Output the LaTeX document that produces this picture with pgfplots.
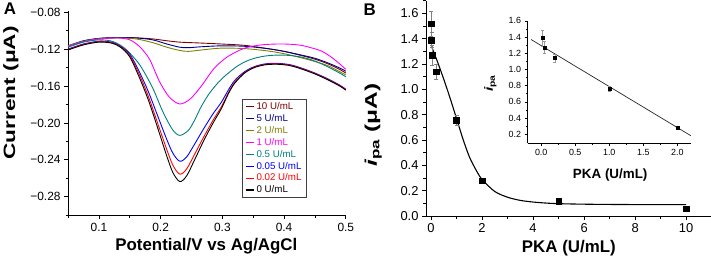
\documentclass[border=0pt]{standalone}
\usepackage{graphicx}
\usepackage{fontspec}
\setmainfont{Liberation Sans}
\usepackage{pgfplots}
\pgfplotsset{compat=1.18}
\definecolor{wine}{RGB}{128,0,0}
\definecolor{navyc}{RGB}{0,0,140}
\definecolor{olivec}{RGB}{128,128,0}
\definecolor{magc}{RGB}{255,0,255}
\definecolor{tealc}{RGB}{0,128,128}
\definecolor{bluec}{RGB}{0,0,255}
\definecolor{redc}{RGB}{255,0,0}

\pgfplotstableread{
x y e
0 1.52 0.10
0.02 1.39 0.06
0.05 1.27 0.08
0.2 1.14 0.06
1 0.76 0.04
2 0.28 0.02
5 0.12 0.01
10 0.06 0.01
}\mainpts

\pgfplotstableread{
x y e
0.02 1.39 0.10
0.05 1.27 0.075
0.2 1.14 0.05
1 0.76 0.03
2 0.28 0.01
}\insetpts

\pgfplotsset{
  myaxis/.style={
    scale only axis,
    axis x line*=bottom, axis y line*=left,
    axis line style={-, line width=0.8bp},
    tick align=outside,
    major tick length=4bp, minor tick length=2.5bp,
    every tick/.style={line width=0.8bp, black},
    /pgf/number format/assume math mode=true,
    clip=false,
  }
}

\begin{document}
\begin{tikzpicture}
\path (0bp,0bp) rectangle (711bp,262bp);

\node[font=\bfseries\fontsize{17}{20}\selectfont] at (7.9bp,253.1bp) {A};
\node[font=\bfseries\fontsize{17}{20}\selectfont] at (369bp,252.8bp) {B};

% ---------------- Panel A
\begin{axis}[myaxis,
  at={(66.3bp,46.3bp)}, anchor=south west,
  width=278.7bp, height=204.7bp,
  xmin=0.05, xmax=0.5, ymin=-0.30, ymax=-0.079,
  xtick={0.1,0.2,0.3,0.4,0.5}, xticklabels={0.1,0.2,0.3,0.4,0.5},
  minor xtick={0.05,0.15,0.25,0.35,0.45},
  ytick={-0.28,-0.24,-0.20,-0.16,-0.12,-0.08},
  yticklabels={−0.28,−0.24,−0.20,−0.16,−0.12,−0.08},
  minor ytick={-0.30,-0.26,-0.22,-0.18,-0.14,-0.10},
  tick label style={font=\fontsize{12}{14}\selectfont},
  xlabel={Potential/V vs Ag/AgCl},
  xlabel style={at={(rel axis cs:0.498,-0.171)}, anchor=base, font=\bfseries\fontsize{17}{20}\selectfont},
  ylabel={\scalebox{1.38}[1]{Current (μA)}},
  ylabel style={at={(rel axis cs:-0.2056,0.60)}, anchor=center, font=\bfseries\fontsize{16.5}{20}\selectfont},
  legend style={at={(rel axis cs:0.626,0.572)}, anchor=north west, draw=black!75, line width=0.8bp,
    font=\fontsize{9.8}{11}\selectfont, inner xsep=3bp, inner ysep=1.5bp, row sep=-0.6bp, cells={anchor=west}},
  legend image code/.code={\draw[#1, line width=1.3bp] (0bp,0bp) -- (8bp,0bp);},
]
\addplot[wine, line width=0.9bp, smooth] coordinates {
(0.05,-0.117) (0.075,-0.1115) (0.10,-0.1085) (0.13,-0.1075) (0.16,-0.1078) (0.187,-0.109) (0.21,-0.111) (0.231,-0.1125) (0.266,-0.1135) (0.298,-0.1145) (0.336,-0.116) (0.373,-0.1195) (0.40,-0.1225) (0.428,-0.127) (0.45,-0.131) (0.471,-0.136) (0.49,-0.142) (0.5,-0.146)};
\addlegendentry{\textcolor{wine}{10 U/mL}}
\addplot[navyc, line width=0.9bp, smooth] coordinates {
(0.05,-0.1165) (0.075,-0.111) (0.10,-0.1085) (0.13,-0.1075) (0.16,-0.108) (0.187,-0.110) (0.21,-0.1145) (0.231,-0.118) (0.245,-0.1185) (0.266,-0.1175) (0.298,-0.1165) (0.336,-0.117) (0.373,-0.1195) (0.40,-0.1225) (0.428,-0.1265) (0.45,-0.130) (0.471,-0.135) (0.49,-0.1405) (0.5,-0.144)};
\addlegendentry{\textcolor{navyc}{5 U/mL}}
\addplot[olivec, line width=0.9bp, smooth] coordinates {
(0.05,-0.1165) (0.075,-0.1115) (0.10,-0.109) (0.13,-0.108) (0.16,-0.109) (0.187,-0.113) (0.21,-0.118) (0.231,-0.1215) (0.245,-0.1225) (0.266,-0.121) (0.298,-0.119) (0.336,-0.1195) (0.373,-0.122) (0.40,-0.125) (0.428,-0.1295) (0.45,-0.1335) (0.471,-0.138) (0.49,-0.1445) (0.5,-0.148)};
\addlegendentry{\textcolor{olivec}{2 U/mL}}
\addplot[magc, line width=0.9bp, smooth] coordinates {
(0.05,-0.117) (0.075,-0.112) (0.10,-0.109) (0.13,-0.108) (0.15,-0.110) (0.166,-0.1174) (0.182,-0.131) (0.198,-0.155) (0.214,-0.172) (0.231,-0.1795) (0.248,-0.174) (0.266,-0.160) (0.287,-0.1407) (0.309,-0.128) (0.336,-0.119) (0.363,-0.1155) (0.39,-0.1145) (0.41,-0.1148) (0.428,-0.116) (0.446,-0.119) (0.46,-0.122) (0.475,-0.128) (0.49,-0.136) (0.5,-0.142)};
\addlegendentry{\textcolor{magc}{1 U/mL}}
\addplot[tealc, line width=0.9bp, smooth] coordinates {
(0.05,-0.118) (0.075,-0.1125) (0.10,-0.110) (0.118,-0.111) (0.13,-0.114) (0.145,-0.121) (0.166,-0.137) (0.187,-0.162) (0.203,-0.187) (0.219,-0.207) (0.231,-0.2135) (0.245,-0.208) (0.255,-0.197) (0.266,-0.182) (0.28,-0.167) (0.298,-0.153) (0.32,-0.1405) (0.336,-0.134) (0.352,-0.130) (0.37,-0.1275) (0.39,-0.1265) (0.41,-0.127) (0.43,-0.129) (0.45,-0.133) (0.47,-0.139) (0.49,-0.146) (0.5,-0.150)};
\addlegendentry{\textcolor{tealc}{0.5 U/mL}}
\addplot[bluec, line width=0.9bp, smooth] coordinates {
(0.05,-0.120) (0.075,-0.1145) (0.10,-0.1115) (0.12,-0.1125) (0.135,-0.117) (0.15,-0.1255) (0.165,-0.144) (0.18,-0.166) (0.195,-0.192) (0.21,-0.218) (0.22,-0.233) (0.231,-0.2415) (0.242,-0.237) (0.255,-0.223) (0.27,-0.206) (0.285,-0.19) (0.298,-0.178) (0.31,-0.164) (0.32,-0.154) (0.336,-0.1445) (0.352,-0.139) (0.37,-0.136) (0.39,-0.1355) (0.41,-0.137) (0.43,-0.141) (0.45,-0.146) (0.47,-0.152) (0.49,-0.159) (0.5,-0.1635)};
\addlegendentry{\textcolor{bluec}{0.05 U/mL}}
\addplot[redc, line width=0.9bp, smooth] coordinates {
(0.05,-0.1205) (0.075,-0.115) (0.10,-0.112) (0.12,-0.113) (0.135,-0.1175) (0.15,-0.127) (0.165,-0.147) (0.18,-0.171) (0.195,-0.2) (0.21,-0.229) (0.22,-0.246) (0.231,-0.2555) (0.242,-0.250) (0.255,-0.234) (0.27,-0.215) (0.285,-0.197) (0.298,-0.183) (0.31,-0.167) (0.32,-0.156) (0.336,-0.1455) (0.352,-0.1395) (0.37,-0.1365) (0.39,-0.136) (0.41,-0.1375) (0.43,-0.1415) (0.45,-0.1465) (0.47,-0.1525) (0.49,-0.1595) (0.5,-0.164)};
\addlegendentry{\textcolor{redc}{0.02 U/mL}}
\addplot[black, line width=0.9bp, smooth] coordinates {
(0.05,-0.121) (0.075,-0.1155) (0.10,-0.1125) (0.12,-0.1135) (0.135,-0.118) (0.15,-0.1285) (0.165,-0.150) (0.18,-0.175) (0.195,-0.205) (0.21,-0.236) (0.22,-0.254) (0.231,-0.2635) (0.242,-0.2575) (0.255,-0.240) (0.27,-0.219) (0.285,-0.200) (0.298,-0.185) (0.31,-0.168) (0.32,-0.157) (0.336,-0.146) (0.352,-0.140) (0.37,-0.137) (0.39,-0.1365) (0.41,-0.138) (0.43,-0.142) (0.45,-0.147) (0.47,-0.153) (0.49,-0.160) (0.5,-0.1645)};
\addlegendentry{\textcolor{black}{0 U/mL}}
\end{axis}

% ---------------- Panel B main
\begin{axis}[myaxis,
  at={(425.4bp,45.3bp)}, anchor=south west,
  width=285.6bp, height=216.1bp,
  xmin=-0.2, xmax=10.96, ymin=0, ymax=1.7,
  xtick={0,2,4,6,8,10}, minor xtick={1,3,5,7,9},
  ytick={0,0.2,0.4,0.6,0.8,1.0,1.2,1.4,1.6},
  minor ytick={0.1,0.3,0.5,0.7,0.9,1.1,1.3,1.5,1.7},
  yticklabel style={/pgf/number format/fixed, /pgf/number format/fixed zerofill, /pgf/number format/precision=1},
  tick label style={font=\fontsize{13}{15}\selectfont},
  xlabel={PKA (U/mL)},
  xlabel style={at={(rel axis cs:0.502,-0.1666)}, anchor=base, font=\bfseries\fontsize{17}{20}\selectfont},
  ylabel={\scalebox{1.45}[1]{{\itshape i}\textsubscript{pa} (μA)}},
  ylabel style={at={(rel axis cs:-0.185,0.424)}, anchor=center, font=\bfseries\fontsize{17}{20}\selectfont},
]
\addplot[black, line width=1.1bp, smooth] coordinates {
(0,1.35) (0.25,1.22) (0.5,1.08) (0.75,0.93) (1,0.77) (1.25,0.61) (1.5,0.47) (1.75,0.37) (2,0.29) (2.5,0.195) (3,0.15) (3.5,0.125) (4,0.112) (4.5,0.104) (5,0.099) (6,0.095) (7,0.093) (8,0.092) (10,0.091)};
\addplot[only marks, mark=square*, mark size=2.9bp, black,
  error bars/.cd, y dir=both, y explicit,
  error bar style={gray, line width=0.6bp},
  error mark options={rotate=90, mark size=2bp, gray, line width=0.6bp}]
  table[x=x, y=y, y error=e] {\mainpts};
\end{axis}

% ---------------- Inset
\begin{axis}[myaxis,
  at={(527.4bp,118.7bp)}, anchor=south west,
  width=163.8bp, height=122.6bp,
  xmin=-0.2, xmax=2.2, ymin=0.09, ymax=1.6,
  major tick length=3bp, minor tick length=1.8bp,
  every tick/.style={line width=0.6bp, black},
  axis line style={-, line width=0.6bp},
  xtick={0,0.5,1,1.5,2}, minor xtick={-0.25,0.25,0.75,1.25,1.75},
  ytick={0.2,0.4,0.6,0.8,1.0,1.2,1.4,1.6},
  minor ytick={0.3,0.5,0.7,0.9,1.1,1.3,1.5},
  ticklabel style={/pgf/number format/fixed, /pgf/number format/fixed zerofill, /pgf/number format/precision=1},
  tick label style={font=\fontsize{9}{10}\selectfont},
  xlabel={PKA (U/mL)},
  xlabel style={at={(rel axis cs:0.506,-0.291)}, anchor=base, font=\bfseries\fontsize{13.5}{16}\selectfont},
  ylabel={\scalebox{1.3}[1]{{\itshape i}\textsubscript{pa}}},
  ylabel style={at={(rel axis cs:-0.228,0.49)}, anchor=center, font=\bfseries\fontsize{12}{14}\selectfont},
]
\addplot[black!85, line width=0.7bp] coordinates {(-0.15,1.37) (2.2,0.181)};
\addplot[only marks, mark=square*, mark size=1.5bp, black,
  error bars/.cd, y dir=both, y explicit,
  error bar style={gray!80, line width=0.5bp},
  error mark options={rotate=90, mark size=1.5bp, gray!80, line width=0.5bp}]
  table[x=x, y=y, y error=e] {\insetpts};
\end{axis}
\end{tikzpicture}
\end{document}
